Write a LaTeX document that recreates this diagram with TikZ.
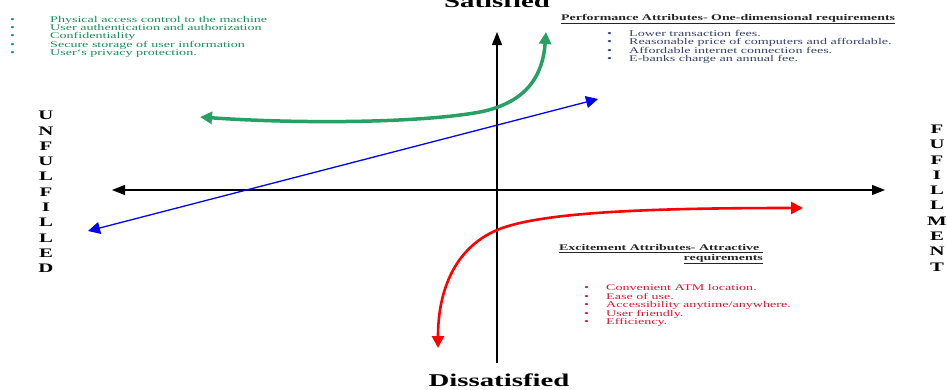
\documentclass[tikz,border=0pt]{standalone}
\usepackage{fontspec}
\setmainfont[FakeStretch=1.6]{Liberation Serif}
\usepackage{xcolor}
\usepackage{tikz}
\usetikzlibrary{arrows.meta, positioning}

\definecolor{kanogreen}{RGB}{40,160,100}
\definecolor{listgreen}{RGB}{30,140,90}
\definecolor{listblue}{RGB}{55,65,105}
\definecolor{listred}{RGB}{215,25,50}

\newcommand{\blt}{\makebox[22pt][l]{\textbullet}}

\begin{document}
\begin{tikzpicture}[
    x=1pt, y=-1pt,
    >={Triangle[length=13pt,width=10pt]},
    list/.style={anchor=north west, align=left, inner sep=0pt, font=\fontsize{8.8}{8.4}\selectfont},
    head/.style={inner sep=0pt, align=right, font=\bfseries\fontsize{8.7}{9.5}\selectfont},
    side/.style={align=center, inner sep=0pt, font=\bfseries\fontsize{13}{15.3}\selectfont},
    pole/.style={anchor=base, inner sep=0pt, font=\bfseries\fontsize{18}{20}\selectfont},
    axis/.style={line width=1.2pt},
    curve/.style={arrows={Triangle[length=12pt,width=12pt]-Triangle[length=12pt,width=12pt]}}
]
\useasboundingbox (0,0) rectangle (947,389);

\coordinate (west) at (112,190);
\coordinate (east) at (885,190);
\coordinate (north) at (497,32);
\coordinate (south) at (497,363);

\draw[axis, <->] (west) -- (east);
\draw[axis, ->] (south) -- (north);

\coordinate (bluelow) at (88,231);
\coordinate (bluehigh) at (598,99);
\draw[curve, blue, line width=1.3pt] (bluelow) -- (bluehigh);

\coordinate (greenleft) at (200,117);
\coordinate (greentop) at (546,32);
\draw[curve, kanogreen, line width=3.5pt]
    (greenleft) .. controls (300,124) and (420,123) .. (480,112)
    .. controls (530,102) and (543,72) .. (greentop);

\coordinate (redright) at (803,208);
\coordinate (redbottom) at (438,348);
\draw[curve, red, line width=2.6pt]
    (redright) .. controls (650,208) and (540,212) .. (497,230)
    .. controls (455,248) and (438,290) .. (redbottom);

\node[list, text=listgreen, font=\fontsize{8.8}{8.3}\selectfont] (basic) at (10,16) {%
    \makebox[40pt][l]{\textbullet}Physical access control to the machine\\
    \makebox[40pt][l]{\textbullet}User authentication and authorization\\
    \makebox[40pt][l]{\textbullet}Confidentiality\\
    \makebox[40pt][l]{\textbullet}Secure storage of user information\\
    \makebox[40pt][l]{\textbullet}User`s privacy protection.};

\node[head, anchor=base west, text=black!85] (perftitle) at (561,20)
    {\underline{Performance Attributes- One-dimensional requirements}};
\node[list, text=listblue] (perf) at (607,30) {%
    \blt Lower transaction fees.\\
    \blt Reasonable price of computers and affordable.\\
    \blt Affordable internet connection fees.\\
    \blt E-banks charge an annual fee.};

\node[head, anchor=north east, text=black!85] (excitetitle) at (763,244.5)
    {\underline{Excitement Attributes- Attractive~}\\\underline{requirements}};
\node[list, text=listred] (excite) at (584,284.5) {%
    \blt Convenient ATM location.\\
    \blt Ease of use.\\
    \blt Accessibility anytime/anywhere.\\
    \blt User friendly.\\
    \blt Efficiency.};

\node[side] (unfulfilled) at (46,192) {U\\N\\F\\U\\L\\F\\I\\L\\L\\E\\D};
\node[side] (fulfillment) at (937,198) {F\\U\\F\\I\\L\\L\\M\\E\\N\\T};

\node[pole] (dissatisfied) at (499,386) {Dissatisfied};
\node[pole] (satisfied) at (497,7) {Satisfied};

\end{tikzpicture}
\end{document}
